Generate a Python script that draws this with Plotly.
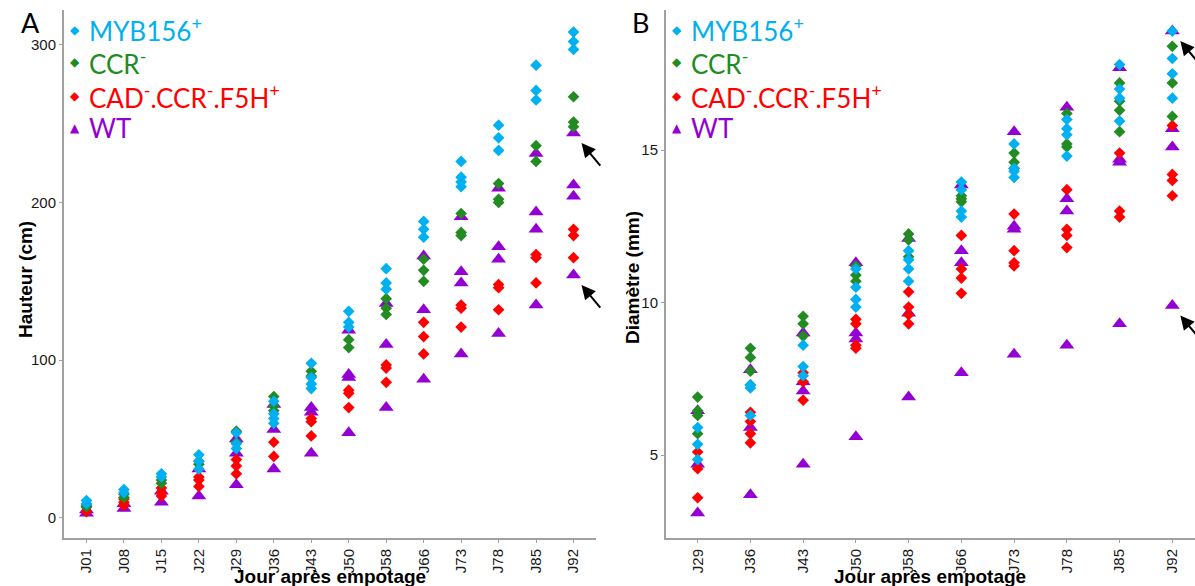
import plotly.graph_objects as go
from plotly.subplots import make_subplots

# ---------------- data ----------------
days_a = ["J01", "J08", "J15", "J22", "J29", "J36", "J43", "J50", "J58", "J66", "J73", "J78", "J85", "J92"]
days_b = ["J29", "J36", "J43", "J50", "J58", "J66", "J73", "J78", "J85", "J92"]

series_names = ["MYB156<sup>+</sup>", "CCR<sup>-</sup>", "CAD<sup>-</sup>.CCR<sup>-</sup>.F5H<sup>+</sup>", "WT"]
series_colors = ["#00B0F0", "#228B22", "#FF0000", "#9400D3"]

# Hauteur (cm), one list of trees per day (days_a)
myb_height = [[11, 9], [18, 16], [28, 26], [40, 36, 31], [54, 47, 44], [74, 66, 63, 60],
              [98, 89, 85, 82], [131, 124, 121], [158, 149, 145], [188, 183, 178],
              [226, 216, 213, 210], [249, 241, 233], [287, 271, 265], [308, 302, 297]]
ccr_height = [[8, 7], [15, 13], [24, 22], [36, 34], [55, 48], [77, 71, 68],
              [93, 90], [113, 108], [139, 133, 129], [164, 157, 150],
              [193, 181, 179], [212, 202, 200], [236, 226], [267, 251, 248]]
cad_height = [[7, 4], [12, 10, 8], [19, 16, 14], [26, 24, 20], [37, 33, 28], [48, 39],
              [63, 61, 52], [81, 79, 70], [97, 95, 86], [124, 115, 104],
              [135, 133, 121], [148, 146, 132], [167, 165, 149], [183, 179, 165]]
wt_height = [[5, 3], [9, 6], [17, 10], [31, 14], [50, 41, 21], [72, 56, 31],
             [70, 67, 41], [119, 91, 89, 54], [136, 110, 70], [166, 132, 88],
             [191, 156, 149, 104], [209, 172, 164, 117], [231, 194, 183, 135], [244, 211, 204, 154]]

# Diametre (mm), one list of trees per day (days_b)
myb_diam = [[5.9, 5.35, 4.85], [7.3, 7.2, 6.3], [8.6, 7.9, 7.6], [11.1, 10.5, 10.1, 9.85],
            [11.7, 11.4, 11.1, 10.7], [13.95, 13.7, 13.0, 12.8], [15.2, 14.4, 14.3, 14.1],
            [16.0, 15.7, 15.5, 14.8], [17.8, 17.0, 16.7, 15.95], [18.9, 18.0, 17.5, 16.7]]
ccr_diam = [[6.9, 6.45, 6.3, 5.7], [8.5, 8.2, 7.75, 7.3], [9.55, 9.3, 8.9], [11.2, 10.9, 10.7],
            [12.25, 12.05, 11.5], [13.5, 13.4, 13.3], [14.9, 14.6, 14.4],
            [16.2, 15.2, 15.1], [17.2, 16.6, 16.3, 15.6], [18.4, 17.2, 16.1]]
cad_diam = [[5.1, 4.55, 3.6], [6.4, 6.1, 5.7, 5.4], [7.7, 7.4, 6.8], [9.45, 9.3, 8.6, 8.5],
            [10.35, 9.85, 9.6, 9.3], [12.2, 11.1, 10.8, 10.3], [12.9, 11.7, 11.3, 11.2],
            [13.7, 12.4, 12.2, 11.8], [14.9, 13.0, 12.8], [15.8, 14.2, 14.0, 13.5]]
wt_diam = [[6.45, 4.7, 3.1], [7.8, 5.9, 3.7], [9.0, 7.4, 7.1, 4.7], [11.3, 9.0, 8.8, 5.6],
           [12.1, 9.65, 6.9], [13.85, 11.7, 11.3, 7.7], [15.6, 12.5, 12.4, 8.3],
           [16.4, 13.4, 13.0, 8.6], [17.7, 14.7, 14.6, 9.3], [18.9, 15.7, 15.1, 9.9]]

heights = [myb_height, ccr_height, cad_height, wt_height]
diams = [myb_diam, ccr_diam, cad_diam, wt_diam]
symbols = ["diamond", "diamond", "diamond", "triangle-up"]
sizes = [9, 9, 9, 13]


def flatten(days, groups):
    xs, ys = [], []
    for d, vals in zip(days, groups):
        for v in vals:
            xs.append(d)
            ys.append(v)
    return xs, ys


W, H = 1195, 586
fig = make_subplots(rows=1, cols=2)

# draw WT first so the diamonds sit on top
for i in [3, 2, 1, 0]:
    xa, ya = flatten(days_a, heights[i])
    fig.add_trace(go.Scatter(x=xa, y=ya, mode="markers", showlegend=False,
                             marker=dict(symbol=symbols[i], size=sizes[i], color=series_colors[i],
                                         line=dict(width=0))), row=1, col=1)
    xb, yb = flatten(days_b, diams[i])
    fig.add_trace(go.Scatter(x=xb, y=yb, mode="markers", showlegend=False,
                             marker=dict(symbol=symbols[i], size=sizes[i], color=series_colors[i],
                                         line=dict(width=0))), row=1, col=2)

ax_common = dict(showgrid=False, zeroline=False, showline=True, linecolor="#A0A0A0", linewidth=2,
                 ticks="outside", ticklen=3, tickcolor="#A0A0A0", tickwidth=1,
                 tickfont=dict(family="Liberation Sans, Arial", size=15, color="#1a1a1a"))

y_top, y_bot = 10, 538
fig.update_layout(
    width=W, height=H, margin=dict(l=0, r=0, t=0, b=0),
    paper_bgcolor="white", plot_bgcolor="white",
    xaxis=dict(domain=[64 / W, 596 / W], type="category", categoryorder="array", categoryarray=days_a,
               range=[-0.6, 13.6], tickangle=-90, **ax_common),
    yaxis=dict(domain=[1 - y_bot / H, 1 - y_top / H], range=[-12.7, 322], tickvals=[0, 100, 200, 300],
               **ax_common),
    xaxis2=dict(domain=[666 / W, 1.0], type="category", categoryorder="array", categoryarray=days_b,
                range=[-0.6, 9.43], tickangle=-90, **ax_common),
    yaxis2=dict(domain=[1 - y_bot / H, 1 - y_top / H], range=[2.28, 19.59], tickvals=[5, 10, 15],
                **ax_common),
)

title_font = dict(family="Liberation Sans, Arial", size=19, color="black")
annotations = []


def txt(text, px, py, font, angle=0, xanchor="center"):
    return dict(text=text, xref="paper", yref="paper", x=px / W, y=1 - py / H, xanchor=xanchor,
                yanchor="middle", textangle=angle, showarrow=False, font=font)


# axis titles
annotations.append(txt("<b>Hauteur (cm)</b>", 25, 280, title_font, angle=-90))
annotations.append(txt("<b>Diamètre (mm)</b>", 632, 278, title_font, angle=-90))
annotations.append(txt("<b>Jour après empotage</b>", 330, 576, title_font))
annotations.append(txt("<b>Jour après empotage</b>", 930, 576, title_font))
# panel letters
annotations.append(txt("A", 30, 22, dict(family="Lato, Noto Sans", size=27, color="black")))
annotations.append(txt("B", 640, 22, dict(family="Lato, Noto Sans", size=27, color="black")))

# legends (drawn as text)
leg_rows = [30, 62, 96, 128]
for x0 in [75, 677]:
    for name, col, sym, yy in zip(series_names, series_colors, symbols, leg_rows):
        glyph = "▲" if sym == "triangle-up" else "◆"
        annotations.append(txt(glyph, x0, yy, dict(family="DejaVu Sans", size=12, color=col)))
        annotations.append(txt(name, x0 + 12, yy, dict(family="Lato, Noto Sans", size=26, color=col),
                               xanchor="left"))

# arrows toward the highlighted WT trees at J92
arrow = dict(showarrow=True, arrowhead=2, arrowsize=1.4, arrowwidth=2, arrowcolor="black",
             ax=20, ay=24, text="")
annotations.append(dict(x="J92", y=wt_height[-1][0], xref="x", yref="y", xshift=8, yshift=-10, **arrow))
annotations.append(dict(x="J92", y=wt_height[-1][-1], xref="x", yref="y", xshift=8, yshift=-10, **arrow))
annotations.append(dict(x="J92", y=wt_diam[-1][0], xref="x2", yref="y2", xshift=8, yshift=-10, **arrow))
annotations.append(dict(x="J92", y=wt_diam[-1][-1], xref="x2", yref="y2", xshift=8, yshift=-10, **arrow))

fig.update_layout(annotations=annotations)

fig.write_html("out.html", config={"displayModeBar": False},
               post_script="document.body.style.margin='0';document.body.style.padding='0';")
